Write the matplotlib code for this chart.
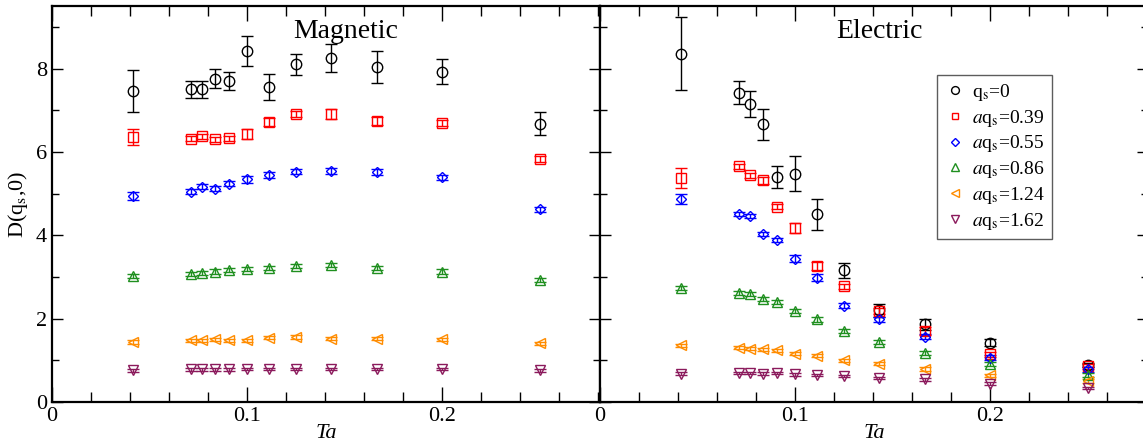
import matplotlib
matplotlib.use('Agg')
import matplotlib.pyplot as plt
from matplotlib.lines import Line2D
from matplotlib.ticker import MultipleLocator

plt.rcParams['font.family'] = ['Liberation Serif', 'DejaVu Serif']
plt.rcParams['mathtext.fontset'] = 'stix'

# Ta values (1/N_t)
ta = [1/24, 1/14, 1/13, 1/12, 1/11, 1/10, 1/9, 1/8, 1/7, 1/6, 1/5, 1/4]

labels = [r'q$_\mathrm{s}$=0', r'$a$q$_\mathrm{s}$=0.39', r'$a$q$_\mathrm{s}$=0.55',
          r'$a$q$_\mathrm{s}$=0.86', r'$a$q$_\mathrm{s}$=1.24', r'$a$q$_\mathrm{s}$=1.62']
colors = ['black', '#ff0000', '#0000ff', '#1f8f1f', '#ff8c00', '#8b1a5c']
markers = ['o', 's', 'D', '^', '<', 'v']
msizes = [7.5, 6.5, 5.5, 7, 7, 7]

# magnetic
mag_q0 = [7.46, 7.50, 7.50, 7.76, 7.70, 8.42, 7.56, 8.10, 8.26, 8.04, 7.92, 6.68]
mag_q0_err = [0.50, 0.20, 0.20, 0.23, 0.22, 0.36, 0.32, 0.25, 0.34, 0.38, 0.30, 0.28]
mag_q039 = [6.36, 6.31, 6.38, 6.30, 6.33, 6.44, 6.71, 6.91, 6.90, 6.74, 6.70, 5.82]
mag_q039_err = [0.20, 0.06, 0.06, 0.06, 0.06, 0.12, 0.10, 0.08, 0.12, 0.10, 0.07, 0.07]
mag_q055 = [4.94, 5.04, 5.16, 5.11, 5.24, 5.34, 5.44, 5.52, 5.54, 5.52, 5.39, 4.62]
mag_q055_err = [0.10, 0.06, 0.06, 0.06, 0.06, 0.08, 0.07, 0.06, 0.07, 0.07, 0.06, 0.06]
mag_q086 = [3.03, 3.08, 3.10, 3.13, 3.16, 3.19, 3.22, 3.26, 3.28, 3.21, 3.13, 2.92]
mag_q086_err = [0.05, 0.05, 0.05, 0.05, 0.05, 0.05, 0.05, 0.05, 0.05, 0.05, 0.05, 0.05]
mag_q124 = [1.44, 1.48, 1.48, 1.50, 1.48, 1.48, 1.54, 1.56, 1.52, 1.52, 1.50, 1.41]
mag_q124_err = [0.04, 0.04, 0.04, 0.04, 0.04, 0.04, 0.04, 0.04, 0.04, 0.04, 0.04, 0.04]
mag_q162 = [0.76, 0.78, 0.78, 0.78, 0.78, 0.79, 0.79, 0.79, 0.79, 0.79, 0.79, 0.76]
mag_q162_err = [0.04, 0.03, 0.03, 0.03, 0.03, 0.03, 0.03, 0.03, 0.03, 0.03, 0.03, 0.03]

# electric
ele_q0 = [8.36, 7.42, 7.14, 6.66, 5.40, 5.48, 4.50, 3.16, 2.20, 1.86, 1.42, 0.88]
ele_q0_err = [0.88, 0.28, 0.31, 0.37, 0.27, 0.42, 0.38, 0.18, 0.15, 0.13, 0.08, 0.05]
ele_q039 = [5.38, 5.66, 5.44, 5.32, 4.68, 4.18, 3.26, 2.78, 2.18, 1.70, 1.14, 0.86]
ele_q039_err = [0.24, 0.06, 0.06, 0.08, 0.06, 0.12, 0.10, 0.06, 0.08, 0.10, 0.06, 0.06]
ele_q055 = [4.86, 4.52, 4.46, 4.04, 3.88, 3.44, 2.98, 2.31, 1.98, 1.56, 1.06, 0.78]
ele_q055_err = [0.12, 0.05, 0.05, 0.05, 0.05, 0.08, 0.08, 0.06, 0.06, 0.06, 0.06, 0.05]
ele_q086 = [2.74, 2.62, 2.60, 2.48, 2.40, 2.18, 1.98, 1.70, 1.44, 1.18, 0.92, 0.64]
ele_q086_err = [0.05, 0.05, 0.05, 0.05, 0.05, 0.05, 0.05, 0.05, 0.05, 0.05, 0.05, 0.05]
ele_q124 = [1.36, 1.30, 1.28, 1.26, 1.24, 1.16, 1.11, 1.00, 0.92, 0.79, 0.64, 0.50]
ele_q124_err = [0.04, 0.04, 0.04, 0.04, 0.04, 0.04, 0.04, 0.04, 0.04, 0.04, 0.04, 0.04]
ele_q162 = [0.68, 0.70, 0.70, 0.68, 0.70, 0.66, 0.65, 0.62, 0.58, 0.54, 0.44, 0.34]
ele_q162_err = [0.03, 0.03, 0.03, 0.03, 0.03, 0.03, 0.03, 0.03, 0.03, 0.03, 0.03, 0.03]

mag = [(mag_q0, mag_q0_err), (mag_q039, mag_q039_err), (mag_q055, mag_q055_err),
       (mag_q086, mag_q086_err), (mag_q124, mag_q124_err), (mag_q162, mag_q162_err)]
ele = [(ele_q0, ele_q0_err), (ele_q039, ele_q039_err), (ele_q055, ele_q055_err),
       (ele_q086, ele_q086_err), (ele_q124, ele_q124_err), (ele_q162, ele_q162_err)]

W, H = 1143, 445
fig = plt.figure(figsize=(W / 100, H / 100), dpi=100)
pw = 548 / W
bot = 1 - 402 / H
ht = 396 / H
ax1 = fig.add_axes([52 / W, bot, pw, ht])
ax2 = fig.add_axes([600 / W, bot, pw, ht])

for ax, data, title, tx in [(ax1, mag, 'Magnetic', 0.535), (ax2, ele, 'Electric', 0.51)]:
    for (y, e), c, m, ms in zip(data, colors, markers, msizes):
        ax.errorbar(ta, y, yerr=e, fmt=m, color=c, mfc='none', mec=c, ms=ms,
                    mew=1.0, elinewidth=1.0, capsize=4, capthick=1.0)
    ax.set_xlim(0, 0.281)
    ax.set_ylim(0, 9.5)
    ax.xaxis.set_minor_locator(MultipleLocator(0.02))
    ax.yaxis.set_major_locator(MultipleLocator(2))
    ax.yaxis.set_minor_locator(MultipleLocator(1))
    ax.tick_params(which='both', direction='in', top=True, right=True, labelsize=16)
    ax.tick_params(which='major', length=8, width=1)
    ax.tick_params(which='minor', length=5, width=1)
    ax.tick_params(axis='x', which='major', length=11)
    ax.tick_params(axis='x', which='minor', length=7)
    ax.set_xticks([0, 0.1, 0.2])
    ax.set_xticklabels(['0', '0.1', '0.2'])
    for s in ax.spines.values():
        s.set_linewidth(1.6)
    ax.set_xlabel('Ta', fontsize=16, style='italic', labelpad=-1)
    ax.text(tx, 0.935, title, transform=ax.transAxes, fontsize=20,
            ha='center', va='center')

ax1.set_ylabel(r'D(q$_\mathrm{s}$,0)', fontsize=16, labelpad=4)
ax2.tick_params(axis='y', labelleft=False)

handles = [Line2D([], [], ls='none', marker=m, mfc='none', mec=c, mew=1.0, ms=ms * 0.75)
           for c, m, ms in zip(colors, markers, msizes)]
leg = ax2.legend(handles, labels, loc='upper left', bbox_to_anchor=(0.615, 0.826),
                 borderaxespad=0, fontsize=14, frameon=True, fancybox=False,
                 handletextpad=0.35, labelspacing=0.25, borderpad=0.35,
                 handlelength=1.1)
leg.get_frame().set_edgecolor('#333333')
leg.get_frame().set_linewidth(1.0)

fig.savefig('out.png', dpi=100)
